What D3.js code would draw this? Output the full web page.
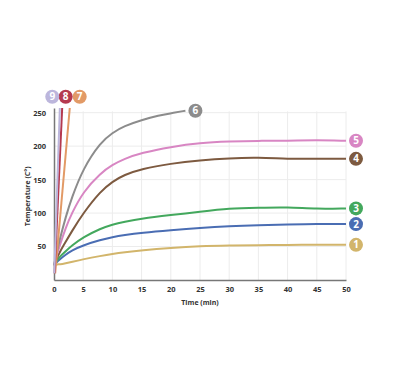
<!DOCTYPE html>
<html>
<head>
<meta charset="utf-8">
<script src="https://cdn.jsdelivr.net/npm/d3@7"></script>
<style>
  body { margin: 0; background: #fff; }
  text { font-family: "Open Sans", "DejaVu Sans", sans-serif; }
</style>
</head>
<body>
<div id="plot"></div>
<script>
// series readings (time in min, temperature in C°)
const labels = ["1", "2", "3", "4", "5", "6", "7", "8", "9"];
const colors = ["#d2b56b", "#4a6db3", "#43a85d", "#7d5a40", "#d886c3", "#8c8c8c", "#e29a66", "#b5394f", "#bcb6dc"];

const timesLong = [0, 0.5, 1, 2, 3, 5, 8, 10, 12, 15, 20, 25, 30, 35, 40, 45, 50];
const s1 = [20, 24, 23, 25, 27, 31, 36, 39, 41.5, 44.5, 48, 50.5, 51.5, 52, 52.5, 52.5, 52.5];
const s2 = [22, 27, 31, 38, 44, 52, 60, 64, 67, 70.5, 74.5, 78, 80.5, 82, 83, 84, 83.5];
const s3 = [22, 29, 35, 43, 51, 64, 77, 83, 87, 92, 97, 102, 107, 108, 109, 106, 107];
const s4 = [22, 33, 42, 57, 72, 100, 133, 147, 157, 166, 174, 179, 182, 183, 181, 181, 181];
const s5 = [22, 38, 52, 78, 99, 132, 160, 172, 181, 190, 199, 205, 207, 208, 208, 209, 208];
const times6 = [0, 0.5, 1, 2, 3, 5, 8, 10, 12, 15, 18, 20, 22.5];
const s6 = [22, 42, 61, 94, 122, 167, 206, 220, 230, 239, 246, 249, 253];
const times7 = [0.2, 2.7];
const s7 = [10, 257];
const times8 = [0.1, 1.4];
const s8 = [10, 257];
const times9 = [0.05, 1.0];
const s9 = [10, 257];

const xTicks = [0, 5, 10, 15, 20, 25, 30, 35, 40, 45, 50];
const yTicks = [50, 100, 150, 200, 250];

const series = [
  {t: timesLong, v: s1}, {t: timesLong, v: s2}, {t: timesLong, v: s3},
  {t: timesLong, v: s4}, {t: timesLong, v: s5}, {t: times6, v: s6},
  {t: times7, v: s7}, {t: times8, v: s8}, {t: times9, v: s9}
].map((s, i) => ({
  label: labels[i],
  color: colors[i],
  points: s.t.map((t, j) => ({t: t, v: s.v[j]}))
}));

const W = 400, H = 375;
const margin = {top: 108, right: 54, bottom: 95, left: 54};
const width = W - margin.left - margin.right;
const height = H - margin.top - margin.bottom;

const svg = d3.select("#plot").append("svg")
  .attr("width", W).attr("height", H);

const g = svg.append("g")
  .attr("transform", `translate(${margin.left},${margin.top})`);

const x = d3.scaleLinear().domain([0, 50]).range([0, width]);
const y = d3.scaleLinear().domain([0, 257]).range([height, 0]);

// grid
g.append("g").selectAll("line").data(xTicks.slice(1)).join("line")
  .attr("x1", d => x(d)).attr("x2", d => x(d))
  .attr("y1", y(252)).attr("y2", height)
  .attr("stroke", "#ececec").attr("stroke-width", 1);
g.append("g").selectAll("line").data(yTicks).join("line")
  .attr("x1", 0).attr("x2", width)
  .attr("y1", d => y(d)).attr("y2", d => y(d))
  .attr("stroke", "#ececec").attr("stroke-width", 1);

// axes
const xAxis = g.append("g")
  .attr("transform", `translate(0,${height})`)
  .call(d3.axisBottom(x).tickValues(xTicks).tickSize(0).tickPadding(7));
const yAxis = g.append("g")
  .call(d3.axisLeft(y).tickValues(yTicks).tickSize(0).tickPadding(8));
[xAxis, yAxis].forEach(a => {
  a.select(".domain").attr("stroke", "#777").attr("stroke-width", 1.5);
  a.selectAll("text").attr("font-size", 7.5).attr("font-weight", "bold").attr("fill", "#333");
});

// lines
const line = d3.line()
  .x(d => x(d.t)).y(d => y(d.v))
  .curve(d3.curveBasis);

g.append("g").selectAll("path").data(series).join("path")
  .attr("d", d => line(d.points))
  .attr("fill", "none")
  .attr("stroke", d => d.color)
  .attr("stroke-width", 2);

// badges
const badgePos = {
  "1": [x(50) + 10, null], "2": [x(50) + 10, null], "3": [x(50) + 10, null],
  "4": [x(50) + 10, null], "5": [x(50) + 10, null], "6": [x(22.5) + 10, null],
  "7": [x(4.4), y(250) - 16], "8": [x(2), y(250) - 16], "9": [x(-0.3), y(250) - 16]
};
const badges = g.append("g").selectAll("g").data(series).join("g")
  .attr("transform", d => {
    const last = d.points[d.points.length - 1];
    const p = badgePos[d.label];
    const by = p[1] === null ? y(last.v) : p[1];
    return `translate(${p[0]},${by})`;
  });
badges.append("circle").attr("r", 7).attr("fill", d => d.color);
badges.append("text")
  .attr("text-anchor", "middle").attr("dy", "0.35em")
  .attr("font-size", 10).attr("font-weight", "bold").attr("fill", "#fff")
  .text(d => d.label);

// axis titles
g.append("text")
  .attr("x", width / 2).attr("y", height + 25)
  .attr("text-anchor", "middle")
  .attr("font-size", 7).attr("font-weight", "bold").attr("fill", "#333")
  .text("Time (min)");
g.append("text")
  .attr("transform", `translate(-24,${y(125)}) rotate(-90)`)
  .attr("text-anchor", "middle")
  .attr("font-size", 7).attr("font-weight", "bold").attr("fill", "#333")
  .text("Temperature (C°)");
</script>
</body>
</html>
